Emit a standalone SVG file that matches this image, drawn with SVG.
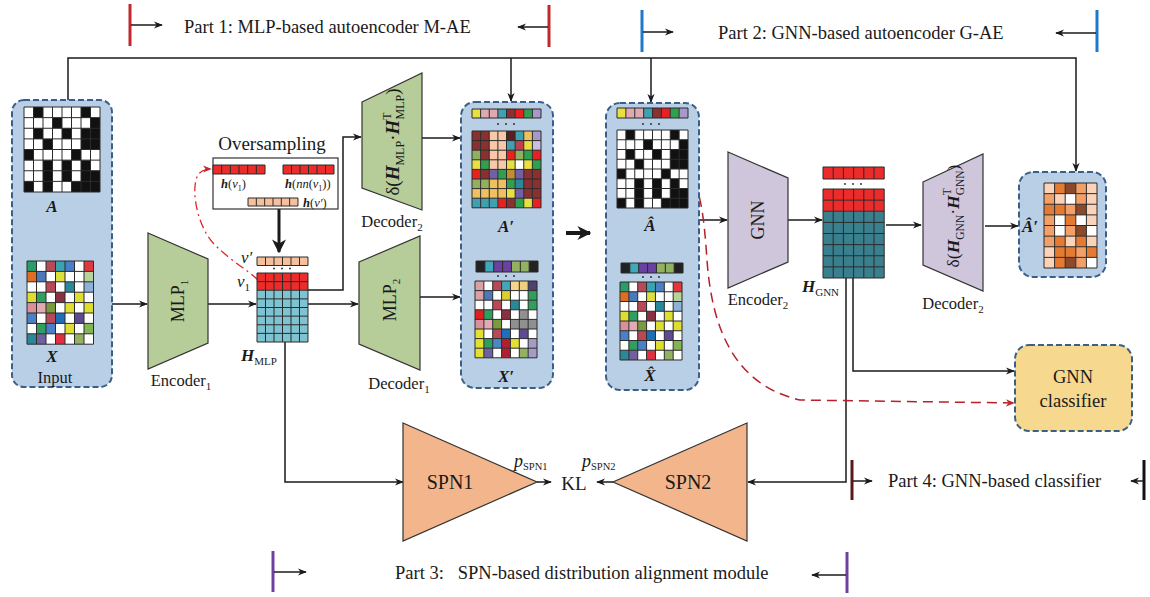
<svg xmlns="http://www.w3.org/2000/svg" width="1150" height="597" viewBox="0 0 1150 597">
<style>
text{font-family:"Liberation Serif","Times New Roman",serif;fill:#1a1a1a}
.lbl{font-size:17px}
.part{font-size:18.5px}
.bi{font-weight:bold;font-style:italic}
.it{font-style:italic}
.panel{fill:#b9cfe6;stroke:#3a6089;stroke-width:2;stroke-dasharray:6 3}
.green{fill:#b7cd99;stroke:#333;stroke-width:1.2}
.purple{fill:#cfc6dc;stroke:#333;stroke-width:1.2}
.spn{fill:#f3b68c;stroke:#333;stroke-width:1.2}
.conn{fill:none;stroke:#1a1a1a;stroke-width:1.5}
.bar{fill:none;stroke-width:3}
.dot{fill:#222}
</style>
<defs>
<path id="g8" fill="none" stroke="#2b2b2b" stroke-width="1" vector-effect="non-scaling-stroke" d="M0 0H80M0 10H80M0 20H80M0 30H80M0 40H80M0 50H80M0 60H80M0 70H80M0 80H80M0 0V80M10 0V80M20 0V80M30 0V80M40 0V80M50 0V80M60 0V80M70 0V80M80 0V80"/>
<path id="g7" fill="none" stroke="#2b2b2b" stroke-width="1" vector-effect="non-scaling-stroke" d="M0 0H70M0 10H70M0 20H70M0 30H70M0 40H70M0 50H70M0 60H70M0 70H70M0 80H70M0 0V80M10 0V80M20 0V80M30 0V80M40 0V80M50 0V80M60 0V80M70 0V80"/>
<path id="g6" fill="none" stroke="#2b2b2b" stroke-width="1" vector-effect="non-scaling-stroke" d="M0 0H60M0 10H60M0 20H60M0 30H60M0 40H60M0 50H60M0 60H60M0 70H60M0 80H60M0 0V80M10 0V80M20 0V80M30 0V80M40 0V80M50 0V80M60 0V80"/>
<path id="g5" fill="none" stroke="#2b2b2b" stroke-width="1" vector-effect="non-scaling-stroke" d="M0 0H50M0 10H50M0 20H50M0 30H50M0 40H50M0 50H50M0 60H50M0 70H50M0 80H50M0 0V80M10 0V80M20 0V80M30 0V80M40 0V80M50 0V80"/>
<path id="r8" fill="none" stroke="#2b2b2b" stroke-width="1" vector-effect="non-scaling-stroke" d="M0 0H80M0 10H80M0 0V10M10 0V10M20 0V10M30 0V10M40 0V10M50 0V10M60 0V10M70 0V10M80 0V10"/>
<path id="r7" fill="none" stroke="#2b2b2b" stroke-width="1" vector-effect="non-scaling-stroke" d="M0 0H70M0 10H70M0 0V10M10 0V10M20 0V10M30 0V10M40 0V10M50 0V10M60 0V10M70 0V10"/>
<path id="r6" fill="none" stroke="#2b2b2b" stroke-width="1" vector-effect="non-scaling-stroke" d="M0 0H60M0 10H60M0 0V10M10 0V10M20 0V10M30 0V10M40 0V10M50 0V10M60 0V10"/>
<path id="binA" fill="#111" d="M10 0h10v10h-10zM60 0h10v10h-10zM30 10h10v10h-10zM70 10h10v10h-10zM10 20h10v10h-10zM40 20h10v10h-10zM60 20h10v10h-10zM70 20h10v10h-10zM20 30h10v10h-10zM60 30h10v10h-10zM70 30h10v10h-10zM0 40h10v10h-10zM50 40h10v10h-10zM20 50h10v10h-10zM40 50h10v10h-10zM60 50h10v10h-10zM20 60h10v10h-10zM40 60h10v10h-10zM60 60h10v10h-10zM70 60h10v10h-10zM0 70h10v10h-10zM20 70h10v10h-10zM50 70h10v10h-10zM60 70h10v10h-10zM70 70h10v10h-10z"/>
<g id="matX">
<rect width="70" height="80" fill="#fff"/>
<rect x="0" y="0" width="10" height="10" fill="#2a9d6a"/><rect x="20" y="0" width="10" height="10" fill="#b84a58"/><rect x="30" y="0" width="10" height="10" fill="#3aa3b3"/><rect x="40" y="0" width="10" height="10" fill="#4a7ec6"/><rect x="60" y="0" width="10" height="10" fill="#e0383e"/>
<rect x="0" y="10" width="10" height="10" fill="#e06e22"/><rect x="10" y="10" width="10" height="10" fill="#4a78b8"/><rect x="30" y="10" width="10" height="10" fill="#dede3c"/><rect x="60" y="10" width="10" height="10" fill="#b9d29a"/>
<rect x="20" y="20" width="10" height="10" fill="#b84a58"/><rect x="40" y="20" width="10" height="10" fill="#2b8898"/><rect x="60" y="20" width="10" height="10" fill="#8db2d8"/>
<rect x="0" y="30" width="10" height="10" fill="#dede30"/><rect x="10" y="30" width="10" height="10" fill="#2f9f60"/><rect x="30" y="30" width="10" height="10" fill="#8a3040"/><rect x="50" y="30" width="10" height="10" fill="#dede30"/>
<rect x="0" y="40" width="10" height="10" fill="#d8909a"/><rect x="10" y="40" width="10" height="10" fill="#e2aab2"/><rect x="20" y="40" width="10" height="10" fill="#7a9a40"/><rect x="40" y="40" width="10" height="10" fill="#dede30"/><rect x="60" y="40" width="10" height="10" fill="#dede30"/>
<rect x="0" y="50" width="10" height="10" fill="#4a80c8"/><rect x="20" y="50" width="10" height="10" fill="#b84a58"/><rect x="30" y="50" width="10" height="10" fill="#1f6fb8"/><rect x="50" y="50" width="10" height="10" fill="#5e4a90"/>
<rect x="10" y="60" width="10" height="10" fill="#2f9f60"/><rect x="20" y="60" width="10" height="10" fill="#4a80c8"/><rect x="40" y="60" width="10" height="10" fill="#dede30"/><rect x="60" y="60" width="10" height="10" fill="#82b452"/>
<rect x="0" y="70" width="10" height="10" fill="#2b8898"/><rect x="10" y="70" width="10" height="10" fill="#7060a0"/><rect x="30" y="70" width="10" height="10" fill="#e03040"/><rect x="50" y="70" width="10" height="10" fill="#92b262"/>
<use href="#g7"/>
</g>
<g id="topA">
<rect x="0" width="10" height="10" fill="#e8e040"/><rect x="10" width="10" height="10" fill="#e0a8b0"/><rect x="20" width="10" height="10" fill="#e0a8b0"/><rect x="30" width="10" height="10" fill="#40a0b0"/><rect x="40" width="10" height="10" fill="#8a3030"/><rect x="50" width="10" height="10" fill="#e82020"/><rect x="60" width="10" height="10" fill="#30a050"/><rect x="70" width="10" height="10" fill="#a898c8"/>
<use href="#r8"/>
</g>
<g id="topX">
<rect width="70" height="10" fill="#222"/><rect x="10" width="10" height="10" fill="#40a8b8"/><rect x="20" width="10" height="10" fill="#6a40a0"/><rect x="30" width="10" height="10" fill="#6a40a0"/><rect x="40" width="10" height="10" fill="#92b262"/><rect x="50" width="10" height="10" fill="#92b262"/>
<use href="#r7"/>
</g>
<marker id="ah" viewBox="0 0 10 10" refX="9" refY="5" markerWidth="9" markerHeight="9" markerUnits="userSpaceOnUse" orient="auto-start-reverse"><path d="M0,1 L10,5 L0,9 L3,5 z" fill="#1a1a1a"/></marker>
<marker id="ahb" viewBox="0 0 10 10" refX="9" refY="5" markerWidth="14" markerHeight="14" markerUnits="userSpaceOnUse" orient="auto"><path d="M0,0 L10,5 L0,10 L3,5 z" fill="#1a1a1a"/></marker>
<marker id="ahr" viewBox="0 0 10 10" refX="9" refY="5" markerWidth="9" markerHeight="9" markerUnits="userSpaceOnUse" orient="auto"><path d="M0,1 L10,5 L0,9 L3,5 z" fill="#c0282d"/></marker>
</defs>

<!-- part labels -->
<g id="part1">
<line x1="130" y1="4" x2="130" y2="46" class="bar" stroke="#c0282d"/>
<line x1="131" y1="25" x2="162" y2="25" class="conn" marker-end="url(#ah)"/>
<text x="184" y="33" class="part">Part 1: MLP-based autoencoder M-AE</text>
<line x1="549" y1="5" x2="549" y2="47" class="bar" stroke="#c0282d"/>
<line x1="548" y1="27" x2="518" y2="27" class="conn" marker-end="url(#ah)"/>
</g>
<g id="part2">
<line x1="642" y1="10" x2="642" y2="52" class="bar" stroke="#1f78c8"/>
<line x1="643" y1="32" x2="673" y2="32" class="conn" marker-end="url(#ah)"/>
<text x="718" y="39" class="part">Part 2: GNN-based autoencoder G-AE</text>
<line x1="1097" y1="10" x2="1097" y2="52" class="bar" stroke="#1f78c8"/>
<line x1="1096" y1="33" x2="1056" y2="33" class="conn" marker-end="url(#ah)"/>
</g>
<g id="part3">
<line x1="273" y1="551" x2="273" y2="592" class="bar" stroke="#7040a0"/>
<line x1="274" y1="572" x2="306" y2="572" class="conn" marker-end="url(#ah)"/>
<text x="395" y="579" class="part" style="white-space:pre">Part 3:   SPN-based distribution alignment module</text>
<line x1="847" y1="552" x2="847" y2="593" class="bar" stroke="#7040a0"/>
<line x1="846" y1="575" x2="812" y2="575" class="conn" marker-end="url(#ah)"/>
</g>
<g id="part4">
<line x1="852" y1="460" x2="852" y2="500" class="bar" stroke="#5a1818"/>
<line x1="853" y1="481" x2="872" y2="481" class="conn" marker-end="url(#ah)"/>
<text x="888" y="487" class="part">Part 4: GNN-based classifier</text>
<line x1="1144" y1="460" x2="1144" y2="500" class="bar" stroke="#111"/>
<line x1="1143" y1="481" x2="1131" y2="481" class="conn" marker-end="url(#ah)"/>
</g>

<!-- connectors -->
<g id="connectors">
<path class="conn" d="M68,100 V58 H1076 V171" marker-end="url(#ah)"/>
<path class="conn" d="M511,58 V101" marker-end="url(#ah)"/>
<path class="conn" d="M651,58 V102" marker-end="url(#ah)"/>
<path class="conn" d="M112,304 H147" marker-end="url(#ah)"/>
<path class="conn" d="M208,304 H256" marker-end="url(#ah)"/>
<path class="conn" d="M308,304 H358" marker-end="url(#ah)"/>
<path class="conn" d="M308,290 H343 V137 H361" marker-end="url(#ah)"/>
<path class="conn" d="M273,177 V195" marker-end="url(#ah)"/>
<path fill="none" stroke="#1a1a1a" stroke-width="3" d="M279,209 V252" marker-end="url(#ahb)"/>
<path fill="none" stroke="#e02828" stroke-width="1.3" stroke-dasharray="9 4 2 4" d="M258,280 C248,270 232,262 215,245 C198,228 192,195 196,180 C198,172 203,169 211,169" marker-end="url(#ahr)"/>
<path class="conn" d="M422,138 H460" marker-end="url(#ah)"/>
<path class="conn" d="M420,297 H460" marker-end="url(#ah)"/>
<path fill="none" stroke="#1a1a1a" stroke-width="4" d="M566,233 H590" marker-end="url(#ahb)"/>
<path class="conn" d="M699,220 H727" marker-end="url(#ah)"/>
<path class="conn" d="M788,220 H822" marker-end="url(#ah)"/>
<path class="conn" d="M886,225 H921" marker-end="url(#ah)"/>
<path class="conn" d="M985,226 H1018" marker-end="url(#ah)"/>
<path class="conn" d="M285,342 V482 H403" marker-end="url(#ah)"/>
<path class="conn" d="M537,482 H551" marker-end="url(#ah)"/>
<path class="conn" d="M613,482 H597" marker-end="url(#ah)"/>
<path class="conn" d="M846,278 V482 H748" marker-end="url(#ah)"/>
<path class="conn" d="M853,278 V371 H1014" marker-end="url(#ah)"/>
<path fill="none" stroke="#b5202a" stroke-width="1.5" stroke-dasharray="10 6" d="M687,168 C700,185 704,215 707,260 C712,330 735,385 800,400 L1014,403" marker-end="url(#ahr)"/>
</g>

<!-- input panel -->
<g id="input">
<rect x="12" y="100" width="100" height="287" rx="12" class="panel"/>
<g transform="translate(24,107) scale(0.95,1.0625)"><rect width="80" height="80" fill="#fff"/><use href="#binA"/><use href="#g8"/></g>
<text x="52" y="212" class="lbl bi" text-anchor="middle">A</text>
<g transform="translate(27,261) scale(0.95,1.04)"><use href="#matX"/></g>
<text x="52" y="362" class="lbl bi" text-anchor="middle">X</text>
<text x="55" y="383" style="font-size:16.5px" text-anchor="middle">Input</text>
</g>

<!-- encoder 1 -->
<g id="mlp1">
<polygon points="148,233 208,259 208,343 148,369" class="green"/>
<text transform="translate(184,301) rotate(-90)" style="font-size:18px" text-anchor="middle">MLP<tspan font-size="11" dy="4">1</tspan></text>
<text x="181" y="386" style="font-size:16.5px" text-anchor="middle">Encoder<tspan font-size="11" dy="4">1</tspan></text>
</g>

<!-- oversampling -->
<g id="oversampling">
<text x="272" y="150" style="font-size:19px" text-anchor="middle">Oversampling</text>
<rect x="213" y="158" width="125" height="51" fill="#fff" stroke="#333" stroke-width="1.2"/>
<g transform="translate(213,165) scale(0.867,0.9)"><rect width="60" height="10" fill="#ec2b2b"/><use href="#r6"/></g>
<g transform="translate(283,165) scale(0.85,0.9)"><rect width="60" height="10" fill="#ec2b2b"/><use href="#r6"/></g>
<g transform="translate(248,198) scale(0.833,0.8)"><rect width="60" height="10" fill="#f6c09c"/><use href="#r6"/></g>
<text x="221" y="188" style="font-size:12.5px"><tspan class="bi">h</tspan>(<tspan class="it">v</tspan><tspan font-size="8" dy="3">1</tspan><tspan dy="-3">)</tspan></text>
<text x="285" y="188" style="font-size:12.5px"><tspan class="bi">h</tspan>(<tspan class="it">nn</tspan>(<tspan class="it">v</tspan><tspan font-size="8" dy="3">1</tspan><tspan dy="-3">))</tspan></text>
<text x="303" y="207" style="font-size:12.5px"><tspan class="bi">h</tspan>(<tspan class="it">v′</tspan>)</text>
</g>

<!-- H_MLP -->
<g id="hmlp">
<g transform="translate(257,257) scale(0.85,0.85)"><rect width="60" height="10" fill="#f6c09c"/><use href="#r6"/></g>
<circle cx="274" cy="268.5" r="0.9" class="dot"/><circle cx="282" cy="268.5" r="0.9" class="dot"/><circle cx="290" cy="268.5" r="0.9" class="dot"/>
<g transform="translate(257,273) scale(0.85,0.8625)"><rect width="60" height="20" fill="#ec2b2b"/><rect y="20" width="60" height="60" fill="#7ec3d2"/><use href="#g6"/></g>
<text x="241" y="263" class="it" style="font-size:17px">v′</text>
<text x="237" y="287" class="it" style="font-size:17px">v<tspan font-size="11" dy="4" font-style="normal">1</tspan></text>
<text x="241" y="361" class="lbl"><tspan class="bi">H</tspan><tspan font-size="11" dy="4">MLP</tspan></text>
</g>

<!-- decoder 2 (MLP) -->
<g id="dec2mlp">
<polygon points="362,102 422,73 422,210 362,188" class="green"/>
<text transform="translate(399,142) rotate(-90)" style="font-size:19px" text-anchor="middle">δ(<tspan class="bi">H</tspan><tspan font-size="12" dy="5">MLP</tspan><tspan dy="-5">·</tspan><tspan class="bi">H</tspan><tspan font-size="12" dy="-8">T</tspan><tspan font-size="12" dx="-7" dy="13">MLP</tspan><tspan dy="-5">)</tspan></text>
<text x="392" y="227" style="font-size:16.5px" text-anchor="middle">Decoder<tspan font-size="11" dy="4">2</tspan></text>
</g>

<!-- decoder 1 -->
<g id="mlp2">
<polygon points="359,262 420,236 420,370 359,344" class="green"/>
<text transform="translate(396,300) rotate(-90)" style="font-size:18px" text-anchor="middle">MLP<tspan font-size="11" dy="4">2</tspan></text>
<text x="399" y="389" style="font-size:16.5px" text-anchor="middle">Decoder<tspan font-size="11" dy="4">1</tspan></text>
</g>

<!-- A' X' panel -->
<g id="recon_mlp">
<rect x="461" y="102" width="92" height="286" rx="14" class="panel"/>
<g transform="translate(472,109) scale(0.8625,0.9)"><use href="#topA"/></g>
<circle cx="498" cy="124" r="0.9" class="dot"/><circle cx="506" cy="124" r="0.9" class="dot"/><circle cx="514" cy="124" r="0.9" class="dot"/>
<g transform="translate(472,131) scale(0.8625,0.96)">
<rect x="0" y="0" width="10" height="10" fill="#8a3030"/><rect x="10" y="0" width="10" height="10" fill="#8a3030"/><rect x="20" y="0" width="10" height="10" fill="#f8c8a8"/><rect x="30" y="0" width="10" height="10" fill="#f8c8a8"/><rect x="40" y="0" width="10" height="10" fill="#5a2020"/><rect x="50" y="0" width="10" height="10" fill="#40a0b0"/><rect x="60" y="0" width="10" height="10" fill="#f0c060"/><rect x="70" y="0" width="10" height="10" fill="#a898c8"/>
<rect x="0" y="10" width="10" height="10" fill="#8a3030"/><rect x="10" y="10" width="10" height="10" fill="#8a3030"/><rect x="20" y="10" width="10" height="10" fill="#f8c8a8"/><rect x="30" y="10" width="10" height="10" fill="#f8c8a8"/><rect x="40" y="10" width="10" height="10" fill="#40a0b0"/><rect x="50" y="10" width="10" height="10" fill="#c04050"/><rect x="60" y="10" width="10" height="10" fill="#e8e040"/><rect x="70" y="10" width="10" height="10" fill="#c8c0e0"/>
<rect x="0" y="20" width="10" height="10" fill="#90b060"/><rect x="10" y="20" width="10" height="10" fill="#8a3030"/><rect x="20" y="20" width="10" height="10" fill="#f8c8a8"/><rect x="30" y="20" width="10" height="10" fill="#f8c8a8"/><rect x="40" y="20" width="10" height="10" fill="#e82020"/><rect x="50" y="20" width="10" height="10" fill="#90b060"/><rect x="60" y="20" width="10" height="10" fill="#30a050"/><rect x="70" y="20" width="10" height="10" fill="#e82020"/>
<rect x="0" y="30" width="10" height="10" fill="#e8e040"/><rect x="10" y="30" width="10" height="10" fill="#30a050"/><rect x="20" y="30" width="10" height="10" fill="#f8c8a8"/><rect x="30" y="30" width="10" height="10" fill="#f8c8a8"/><rect x="40" y="30" width="10" height="10" fill="#e8e040"/><rect x="50" y="30" width="10" height="10" fill="#fff"/><rect x="60" y="30" width="10" height="10" fill="#e8e040"/><rect x="70" y="30" width="10" height="10" fill="#30a050"/>
<rect x="0" y="40" width="10" height="10" fill="#e82020"/><rect x="10" y="40" width="10" height="10" fill="#8a3030"/><rect x="20" y="40" width="10" height="10" fill="#7060a8"/><rect x="30" y="40" width="10" height="10" fill="#30a050"/><rect x="40" y="40" width="10" height="10" fill="#c09030"/><rect x="50" y="40" width="10" height="10" fill="#7060a8"/><rect x="60" y="40" width="10" height="10" fill="#8a3030"/><rect x="70" y="40" width="10" height="10" fill="#8a3030"/>
<rect x="0" y="50" width="10" height="10" fill="#90b060"/><rect x="10" y="50" width="10" height="10" fill="#90b060"/><rect x="20" y="50" width="10" height="10" fill="#f0c060"/><rect x="30" y="50" width="10" height="10" fill="#f0c060"/><rect x="40" y="50" width="10" height="10" fill="#30a050"/><rect x="50" y="50" width="10" height="10" fill="#2a8898"/><rect x="60" y="50" width="10" height="10" fill="#8a3030"/><rect x="70" y="50" width="10" height="10" fill="#8a3030"/>
<rect x="0" y="60" width="10" height="10" fill="#f0c060"/><rect x="10" y="60" width="10" height="10" fill="#f0c060"/><rect x="20" y="60" width="10" height="10" fill="#f0c060"/><rect x="30" y="60" width="10" height="10" fill="#f0c060"/><rect x="40" y="60" width="10" height="10" fill="#e8e040"/><rect x="50" y="60" width="10" height="10" fill="#7060a8"/><rect x="60" y="60" width="10" height="10" fill="#8a3030"/><rect x="70" y="60" width="10" height="10" fill="#8a3030"/>
<rect x="0" y="70" width="10" height="10" fill="#40a0b0"/><rect x="10" y="70" width="10" height="10" fill="#40a0b0"/><rect x="20" y="70" width="10" height="10" fill="#40a0b0"/><rect x="30" y="70" width="10" height="10" fill="#e82020"/><rect x="40" y="70" width="10" height="10" fill="#8a3030"/><rect x="50" y="70" width="10" height="10" fill="#30a050"/><rect x="60" y="70" width="10" height="10" fill="#e8e040"/><rect x="70" y="70" width="10" height="10" fill="#e82020"/>
<use href="#g8"/>
</g>
<text x="506" y="232" class="lbl bi" text-anchor="middle">A′</text>
<g transform="translate(476,261) scale(0.886,1.1)"><use href="#topX"/></g>
<circle cx="498" cy="276" r="0.9" class="dot"/><circle cx="506" cy="276" r="0.9" class="dot"/><circle cx="514" cy="276" r="0.9" class="dot"/>
<g transform="translate(475,281) scale(0.886,0.96)">
<rect width="70" height="80" fill="#fff"/>
<rect x="0" y="0" width="10" height="10" fill="#dba0a4"/><rect x="20" y="0" width="10" height="10" fill="#b84a58"/><rect x="30" y="0" width="10" height="10" fill="#40a8b8"/><rect x="40" y="0" width="10" height="10" fill="#f6d48e"/><rect x="50" y="0" width="10" height="10" fill="#f0d080"/><rect x="60" y="0" width="10" height="10" fill="#4e4070"/>
<rect x="0" y="10" width="10" height="10" fill="#dba0a4"/><rect x="10" y="10" width="10" height="10" fill="#4a78b8"/><rect x="30" y="10" width="10" height="10" fill="#d8d030"/><rect x="60" y="10" width="10" height="10" fill="#2f9f60"/>
<rect x="20" y="20" width="10" height="10" fill="#b84a58"/><rect x="40" y="20" width="10" height="10" fill="#2b8898"/><rect x="60" y="20" width="10" height="10" fill="#2f9f60"/>
<rect x="0" y="30" width="10" height="10" fill="#e02020"/><rect x="10" y="30" width="10" height="10" fill="#2f9f60"/><rect x="30" y="30" width="10" height="10" fill="#8a3040"/><rect x="50" y="30" width="10" height="10" fill="#909090"/>
<rect x="0" y="40" width="10" height="10" fill="#d8909a"/><rect x="10" y="40" width="10" height="10" fill="#e2aab2"/><rect x="20" y="40" width="10" height="10" fill="#7a9a40"/><rect x="40" y="40" width="10" height="10" fill="#909090"/><rect x="50" y="40" width="10" height="10" fill="#909090"/><rect x="60" y="40" width="10" height="10" fill="#909090"/>
<rect x="0" y="50" width="10" height="10" fill="#e2e030"/><rect x="20" y="50" width="10" height="10" fill="#b84a58"/><rect x="30" y="50" width="10" height="10" fill="#1f6fc0"/><rect x="50" y="50" width="10" height="10" fill="#5e4a90"/>
<rect x="0" y="60" width="10" height="10" fill="#e2e030"/><rect x="10" y="60" width="10" height="10" fill="#2f9f60"/><rect x="20" y="60" width="10" height="10" fill="#4a88c8"/><rect x="30" y="60" width="10" height="10" fill="#b02030"/><rect x="40" y="60" width="10" height="10" fill="#e2e030"/><rect x="60" y="60" width="10" height="10" fill="#a49cc4"/>
<rect x="0" y="70" width="10" height="10" fill="#e2e030"/><rect x="10" y="70" width="10" height="10" fill="#7060a0"/><rect x="30" y="70" width="10" height="10" fill="#b02030"/><rect x="50" y="70" width="10" height="10" fill="#92b262"/><rect x="60" y="70" width="10" height="10" fill="#a49cc4"/>
<use href="#g7"/>
</g>
<text x="506" y="382" class="lbl bi" text-anchor="middle">X′</text>
</g>

<!-- A-hat X-hat panel -->
<g id="recon_hat">
<rect x="606" y="103" width="93" height="287" rx="14" class="panel"/>
<g transform="translate(617,108) scale(0.8875,1)"><use href="#topA"/></g>
<circle cx="643" cy="124" r="0.9" class="dot"/><circle cx="651" cy="124" r="0.9" class="dot"/><circle cx="659" cy="124" r="0.9" class="dot"/>
<g transform="translate(617,130) scale(0.8875,0.975)"><rect width="80" height="80" fill="#fff"/><use href="#binA"/><use href="#g8"/></g>
<text x="650" y="231" class="lbl bi" text-anchor="middle">Â</text>
<g transform="translate(621,263) scale(0.886,1)"><use href="#topX"/></g>
<circle cx="643" cy="277" r="0.9" class="dot"/><circle cx="651" cy="277" r="0.9" class="dot"/><circle cx="659" cy="277" r="0.9" class="dot"/>
<g transform="translate(620,282) scale(0.886,0.975)"><use href="#matX"/></g>
<text x="650" y="381" class="lbl bi" text-anchor="middle">X̂</text>
</g>

<!-- GNN encoder -->
<g id="gnn">
<polygon points="728,152 788,178 788,262 728,288" class="purple"/>
<text transform="translate(764,220) rotate(-90)" style="font-size:18px" text-anchor="middle">GNN</text>
<text x="758" y="305" style="font-size:16.5px" text-anchor="middle">Encoder<tspan font-size="11" dy="4">2</tspan></text>
</g>

<!-- H_GNN -->
<g id="hgnn">
<g transform="translate(823,167) scale(1.02,1.2)"><rect width="60" height="10" fill="#ec2b2b"/><use href="#r6"/></g>
<circle cx="845" cy="184" r="0.9" class="dot"/><circle cx="853" cy="184" r="0.9" class="dot"/><circle cx="861" cy="184" r="0.9" class="dot"/>
<g transform="translate(823,189) scale(1.02,1.1125)"><rect width="60" height="20" fill="#ec2b2b"/><rect y="20" width="60" height="60" fill="#3a7f8e"/><use href="#g6"/></g>
<text x="802" y="292" class="lbl"><tspan class="bi">H</tspan><tspan font-size="11" dy="4">GNN</tspan></text>
</g>

<!-- decoder 2 (GNN) -->
<g id="dec2gnn">
<polygon points="923,182 983,154 983,291 923,265" class="purple"/>
<text transform="translate(959,216) rotate(-90)" style="font-size:17.5px" text-anchor="middle">δ(<tspan class="bi">H</tspan><tspan font-size="11.5" dy="5">GNN</tspan><tspan dy="-5">·</tspan><tspan class="bi">H</tspan><tspan font-size="11.5" dy="-8">T</tspan><tspan font-size="11.5" dx="-7" dy="13">GNN</tspan><tspan dy="-5">)</tspan></text>
<text x="953" y="309" style="font-size:16.5px" text-anchor="middle">Decoder<tspan font-size="11" dy="4">2</tspan></text>
</g>

<!-- A-hat' panel -->
<g id="ahatprime">
<rect x="1019" y="172" width="87" height="105" rx="14" class="panel"/>
<g transform="translate(1044,183) scale(1.06,1.0625)">
<rect width="50" height="80" fill="#fff"/>
<rect x="0" y="0" width="10" height="10" fill="#fbd3b8"/><rect x="10" y="0" width="10" height="10" fill="#e57a32"/><rect x="20" y="0" width="10" height="10" fill="#8b4a2b"/><rect x="30" y="0" width="10" height="10" fill="#f2a068"/><rect x="40" y="0" width="10" height="10" fill="#fbd3b8"/>
<rect x="0" y="10" width="10" height="10" fill="#f2a068"/><rect x="10" y="10" width="10" height="10" fill="#fbd3b8"/><rect x="30" y="10" width="10" height="10" fill="#f2a068"/><rect x="40" y="10" width="10" height="10" fill="#fbd3b8"/>
<rect x="0" y="20" width="10" height="10" fill="#e57a32"/><rect x="10" y="20" width="10" height="10" fill="#e57a32"/><rect x="20" y="20" width="10" height="10" fill="#f2a068"/><rect x="30" y="20" width="10" height="10" fill="#8b4a2b"/><rect x="40" y="20" width="10" height="10" fill="#fbd3b8"/>
<rect x="0" y="30" width="10" height="10" fill="#f2a068"/><rect x="20" y="30" width="10" height="10" fill="#e57a32"/><rect x="40" y="30" width="10" height="10" fill="#fbd3b8"/>
<rect x="0" y="40" width="10" height="10" fill="#f2a068"/><rect x="20" y="40" width="10" height="10" fill="#f2a068"/><rect x="30" y="40" width="10" height="10" fill="#8b4a2b"/>
<rect x="0" y="50" width="10" height="10" fill="#f2a068"/><rect x="10" y="50" width="10" height="10" fill="#e57a32"/><rect x="20" y="50" width="10" height="10" fill="#fbd3b8"/><rect x="30" y="50" width="10" height="10" fill="#e57a32"/><rect x="40" y="50" width="10" height="10" fill="#fbd3b8"/>
<rect x="0" y="60" width="10" height="10" fill="#fbd3b8"/><rect x="10" y="60" width="10" height="10" fill="#e57a32"/><rect x="20" y="60" width="10" height="10" fill="#e57a32"/><rect x="30" y="60" width="10" height="10" fill="#f2a068"/><rect x="40" y="60" width="10" height="10" fill="#e57a32"/>
<rect x="0" y="70" width="10" height="10" fill="#fbd3b8"/><rect x="10" y="70" width="10" height="10" fill="#e57a32"/><rect x="20" y="70" width="10" height="10" fill="#8b4a2b"/><rect x="30" y="70" width="10" height="10" fill="#f2a068"/>
<use href="#g5"/>
</g>
<text x="1030" y="232" class="lbl bi" text-anchor="middle">Â′</text>
</g>

<!-- classifier -->
<g id="classifier">
<rect x="1015" y="345" width="117" height="86" rx="14" fill="#f6d88e" stroke="#3a6089" stroke-width="2" stroke-dasharray="6 3"/>
<text x="1073" y="383" style="font-size:18.5px" text-anchor="middle">GNN</text>
<text x="1073" y="407" style="font-size:18.5px" text-anchor="middle">classifier</text>
</g>

<!-- SPN -->
<g id="spn1">
<polygon points="403,423 537,482 403,541" class="spn"/>
<text x="450" y="489" style="font-size:20px" text-anchor="middle">SPN1</text>
<text x="514" y="467" style="font-size:18px"><tspan class="it">p</tspan><tspan font-size="10.5" dy="3">SPN1</tspan></text>
</g>
<g id="kl">
<text x="574" y="490" style="font-size:19px" text-anchor="middle">KL</text>
</g>
<g id="spn2">
<polygon points="747,423 613,482 747,541" class="spn"/>
<text x="688" y="489" style="font-size:20px" text-anchor="middle">SPN2</text>
<text x="582" y="467" style="font-size:18px"><tspan class="it">p</tspan><tspan font-size="10.5" dy="3">SPN2</tspan></text>
</g>
</svg>
